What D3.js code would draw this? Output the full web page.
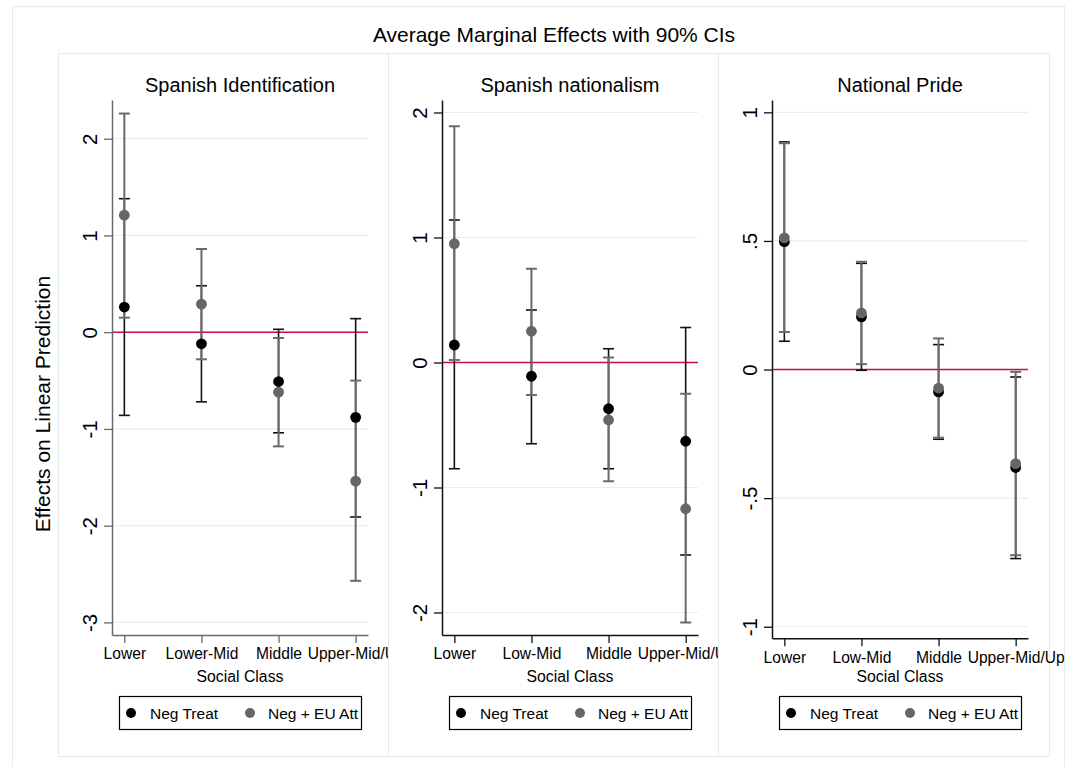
<!DOCTYPE html>
<html>
<head>
<meta charset="utf-8">
<script src="https://cdn.jsdelivr.net/npm/d3@7"></script>
<style>
  html, body { margin: 0; padding: 0; background: #fff; }
  svg { display: block; font-family: "Liberation Sans", Arial, Helvetica, sans-serif; }
</style>
</head>
<body>
<svg id="chart" width="1066" height="767"></svg>
<script>
// ---- data ----
const mainTitle = "Average Marginal Effects with 90% CIs";
const yTitle = "Effects on Linear Prediction";
const xTitle = "Social Class";
const seriesNames = ["Neg Treat", "Neg + EU Att"];

const panelTitles = ["Spanish Identification", "Spanish nationalism", "National Pride"];
const categoriesA = ["Lower", "Lower-Mid", "Middle", "Upper-Mid/Up"];
const categoriesB = ["Lower", "Low-Mid", "Middle", "Upper-Mid/Up"];

// Spanish Identification
const idNegEst = [0.26, -0.12, -0.51, -0.88];
const idNegLo  = [-0.86, -0.72, -1.04, -1.91];
const idNegHi  = [1.38, 0.48, 0.03, 0.14];
const idEuEst  = [1.21, 0.29, -0.62, -1.54];
const idEuLo   = [0.15, -0.28, -1.18, -2.57];
const idEuHi   = [2.26, 0.86, -0.06, -0.50];

// Spanish nationalism
const natNegEst = [0.14, -0.11, -0.37, -0.63];
const natNegLo  = [-0.85, -0.65, -0.85, -1.54];
const natNegHi  = [1.14, 0.42, 0.11, 0.28];
const natEuEst  = [0.95, 0.25, -0.46, -1.17];
const natEuLo   = [0.02, -0.26, -0.95, -2.08];
const natEuHi   = [1.89, 0.75, 0.04, -0.25];

// National Pride
const prideNegEst = [0.497, 0.205, -0.087, -0.381];
const prideNegLo  = [0.110, -0.003, -0.271, -0.735];
const prideNegHi  = [0.885, 0.413, 0.097, -0.029];
const prideEuEst  = [0.512, 0.220, -0.072, -0.366];
const prideEuLo   = [0.146, 0.021, -0.265, -0.722];
const prideEuHi   = [0.880, 0.419, 0.121, -0.009];

// y-axis ticks and labels
const idTicks = [-3, -2, -1, 0, 1, 2];
const idTickLabels = ["-3", "-2", "-1", "0", "1", "2"];
const natTicks = [-2, -1, 0, 1, 2];
const natTickLabels = ["-2", "-1", "0", "1", "2"];
const prideTicks = [-1, -0.5, 0, 0.5, 1];
const prideTickLabels = ["-1", "-.5", "0", ".5", "1"];

// y-axis extents
const idRange = [-3.13, 2.40];
const natRange = [-2.18, 2.10];
const prideRange = [-1.045, 1.048];

// ---- assemble panels ----
const panels = [
  { title: panelTitles[0], cats: categoriesA, ticks: idTicks, tickLabels: idTickLabels, yDomain: idRange,
    series: [ { est: idNegEst, lo: idNegLo, hi: idNegHi }, { est: idEuEst, lo: idEuLo, hi: idEuHi } ],
    left: 58, width: 330, plotBottom: 635, axisColor: "#6a6a6a" },
  { title: panelTitles[1], cats: categoriesB, ticks: natTicks, tickLabels: natTickLabels, yDomain: natRange,
    series: [ { est: natNegEst, lo: natNegLo, hi: natNegHi }, { est: natEuEst, lo: natEuLo, hi: natEuHi } ],
    left: 388, width: 330, plotBottom: 635, axisColor: "#111" },
  { title: panelTitles[2], cats: categoriesB, ticks: prideTicks, tickLabels: prideTickLabels, yDomain: prideRange,
    series: [ { est: prideNegEst, lo: prideNegLo, hi: prideNegHi }, { est: prideEuEst, lo: prideEuLo, hi: prideEuHi } ],
    left: 718, width: 331, plotBottom: 638.3, axisColor: "#111" }
];

const seriesColors = ["#000000", "#666666"];
const ciColors = ["#111111", "#6a6a6a"];
const ciWidths = [1.6, 2];
const frameColor = "#e4eced";
const gridColor = "#e6eef1";
const zeroColor = "#c8103f";

const svg = d3.select("#chart");

// outer graph frame
svg.append("rect")
  .attr("x", 12.5).attr("y", 6.5).attr("width", 1052).attr("height", 780)
  .attr("fill", "#fff").attr("stroke", frameColor).attr("stroke-width", 1);

// overall title
svg.append("text")
  .attr("x", 554).attr("y", 42)
  .attr("text-anchor", "middle")
  .attr("font-size", 21).attr("fill", "#000")
  .text(mainTitle);

// shared y-axis title
svg.append("text")
  .attr("transform", "translate(50,404) rotate(-90)")
  .attr("text-anchor", "middle")
  .attr("font-size", 21).attr("fill", "#000")
  .text(yTitle);

const panelTop = 53;
const panelBottom = 756;
const plotTop = 100;

panels.forEach((p, pi) => {
  const g = svg.append("g");

  // panel background and border (covers overflow from the previous panel)
  g.append("rect")
    .attr("x", p.left + 0.5).attr("y", panelTop + 0.5)
    .attr("width", p.width).attr("height", panelBottom - panelTop)
    .attr("fill", "#fff").attr("stroke", frameColor).attr("stroke-width", 1);

  const x0 = p.left + 54;
  const x1 = p.left + 310;
  const cx = (x0 + x1) / 2;

  const x = d3.scaleLinear().domain([0.84, 4.16]).range([x0, x1]);
  const y = d3.scaleLinear().domain(p.yDomain).range([p.plotBottom, plotTop]);

  // gridlines
  g.append("g").selectAll("line").data(p.ticks).join("line")
    .attr("x1", x0).attr("x2", x1)
    .attr("y1", d => y(d)).attr("y2", d => y(d))
    .attr("stroke", gridColor).attr("stroke-width", 1.2);

  // zero reference line
  g.append("line")
    .attr("x1", x0).attr("x2", x1)
    .attr("y1", y(0)).attr("y2", y(0))
    .attr("stroke", zeroColor).attr("stroke-width", 1.6);

  // y axis
  const yAxis = d3.axisLeft(y)
    .tickValues(p.ticks)
    .tickFormat((d, i) => p.tickLabels[i])
    .tickSize(8).tickSizeOuter(0);
  const ya = g.append("g").attr("transform", `translate(${x0},0)`).call(yAxis);
  ya.select(".domain").attr("stroke", p.axisColor).attr("stroke-width", 1.5);
  ya.selectAll(".tick line").attr("stroke", p.axisColor).attr("stroke-width", 1.3);
  ya.selectAll(".tick text")
    .attr("font-family", null)
    .attr("font-size", 20.5).attr("fill", "#000")
    .attr("x", null).attr("dy", null).attr("y", null)
    .attr("text-anchor", "middle")
    .attr("transform", "translate(-15,0) rotate(-90)");

  // x axis
  const xAxis = d3.axisBottom(x)
    .tickValues([1, 2, 3, 4])
    .tickFormat((d, i) => p.cats[i])
    .tickSize(8).tickSizeOuter(0);
  const xa = g.append("g").attr("transform", `translate(0,${p.plotBottom})`).call(xAxis);
  xa.select(".domain").attr("stroke", p.axisColor).attr("stroke-width", 1.5);
  xa.selectAll(".tick line").attr("stroke", p.axisColor).attr("stroke-width", 1.3);
  xa.selectAll(".tick text")
    .attr("font-family", null)
    .attr("font-size", 15.6).attr("fill", "#000")
    .attr("dy", null).attr("y", 24.3);

  // x-axis title
  g.append("text")
    .attr("x", cx).attr("y", 681.7)
    .attr("text-anchor", "middle")
    .attr("font-size", 15.8).attr("fill", "#000")
    .text(xTitle);

  // panel title
  g.append("text")
    .attr("x", cx).attr("y", 91.7)
    .attr("text-anchor", "middle")
    .attr("font-size", 20).attr("fill", "#000")
    .text(p.title);

  // confidence intervals (vertical bar + caps), first series then second
  p.series.forEach((s, si) => {
    const idx = d3.range(s.est.length);
    const ci = g.append("g").attr("stroke", ciColors[si]).attr("stroke-width", ciWidths[si]);
    ci.selectAll("line.bar").data(idx).join("line").attr("class", "bar")
      .attr("x1", i => x(i + 1)).attr("x2", i => x(i + 1))
      .attr("y1", i => y(s.lo[i])).attr("y2", i => y(s.hi[i]));
    ci.selectAll("line.capHi").data(idx).join("line").attr("class", "capHi")
      .attr("x1", i => x(i + 1) - 5.5).attr("x2", i => x(i + 1) + 5.5)
      .attr("y1", i => y(s.hi[i])).attr("y2", i => y(s.hi[i]));
    ci.selectAll("line.capLo").data(idx).join("line").attr("class", "capLo")
      .attr("x1", i => x(i + 1) - 5.5).attr("x2", i => x(i + 1) + 5.5)
      .attr("y1", i => y(s.lo[i])).attr("y2", i => y(s.lo[i]));
  });

  // point estimates
  p.series.forEach((s, si) => {
    g.append("g").selectAll("circle").data(s.est).join("circle")
      .attr("cx", (d, i) => x(i + 1)).attr("cy", d => y(d))
      .attr("r", 5.4).attr("fill", seriesColors[si]);
  });

  // legend
  const lw = 242, lh = 33;
  const lx = cx - lw / 2, ly = 696;
  const clipId = `legendClip${pi}`;
  g.append("clipPath").attr("id", clipId)
    .append("rect").attr("x", lx).attr("y", ly).attr("width", lw).attr("height", lh);
  const lg = g.append("g");
  lg.append("rect")
    .attr("x", lx + 0.5).attr("y", ly + 0.5).attr("width", lw).attr("height", lh)
    .attr("fill", "#fff").attr("stroke", "#000").attr("stroke-width", 1.2);
  const items = lg.append("g").attr("clip-path", `url(#${clipId})`);
  const markerOffsets = [12, 131];
  const textOffsets = [31, 149];
  seriesNames.forEach((name, si) => {
    items.append("circle")
      .attr("cx", lx + markerOffsets[si]).attr("cy", ly + 17)
      .attr("r", 5).attr("fill", seriesColors[si]);
    items.append("text")
      .attr("x", lx + textOffsets[si]).attr("y", ly + 23)
      .attr("font-size", 15.5).attr("fill", "#000")
      .text(name);
  });
});
</script>
</body>
</html>
